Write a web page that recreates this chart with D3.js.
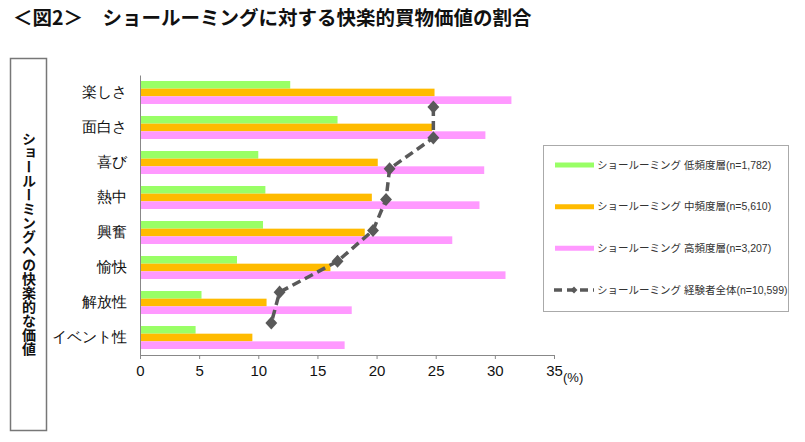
<!DOCTYPE html>
<html><head><meta charset="utf-8">
<script src="https://cdn.jsdelivr.net/npm/d3@7"></script>
<style>
body{margin:0;background:#fff;}
svg{display:block;font-family:"Noto Sans CJK JP","Noto Sans",sans-serif;}
</style></head>
<body>
<svg id="c" width="805" height="442"></svg>
<script>
const categories = ["楽しさ","面白さ","喜び","熱中","興奮","愉快","解放性","イベント性"];
const lowFreq  = [12.7,16.7,10.0,10.6,10.4,8.2,5.2,4.7];
const midFreq  = [24.9,24.7,20.1,19.6,19.0,16.1,10.7,9.5];
const highFreq = [31.4,29.2,29.1,28.7,26.4,30.9,17.9,17.3];
const allUsers = [24.8,24.8,21.1,20.8,19.7,16.7,11.8,11.1];
const xTicks = [0,5,10,15,20,25,30,35];
const seriesNames = ["ショールーミング 低頻度層(n=1,782)","ショールーミング 中頻度層(n=5,610)","ショールーミング 高頻度層(n=3,207)","ショールーミング 経験者全体(n=10,599)"];
const colors = ["#99ff66","#ffbb00","#ff99ff","#595959"];

const svg = d3.select("#c");
const x = d3.scaleLinear().domain([0,35]).range([140,554]);
const y = d3.scaleBand().domain(categories).range([75,355]).paddingInner(0.343).paddingOuter(0.171);
const barSeries = [lowFreq, midFreq, highFreq];
const sub = d3.scaleBand().domain([0,1,2]).range([0, y.bandwidth()]);
const yLine = d3.scalePoint().domain(categories).range([107,323]);

// title
svg.append("text").attr("x",13).attr("y",25).attr("font-size",19.5).attr("font-weight","bold")
  .attr("fill","#111").text("＜図2＞　ショールーミングに対する快楽的買物価値の割合");

// y label box
svg.append("rect").attr("x",10.5).attr("y",58.5).attr("width",36).attr("height",372)
  .attr("fill","none").attr("stroke","#777").attr("stroke-width",1.5);
svg.append("text").attr("x",29).attr("y",244).attr("text-anchor","middle")
  .style("writing-mode","vertical-rl").attr("font-size",14).attr("font-weight","bold").attr("fill","#111")
  .text("ショールーミングへの快楽的な価値");

// bars
barSeries.forEach((vals,i)=>{
  svg.append("g").selectAll("rect").data(vals).join("rect")
    .attr("x",x(0)).attr("y",(d,j)=>y(categories[j])+sub(i))
    .attr("width",d=>x(d)-x(0)).attr("height",sub.bandwidth())
    .attr("fill",colors[i]);
});

// axes
const xa = svg.append("g").attr("transform","translate(0,355)")
  .call(d3.axisBottom(x).tickValues(xTicks).tickSize(4).tickSizeOuter(0).tickPadding(6));
xa.select(".domain").attr("stroke","#888");
xa.selectAll(".tick line").attr("stroke","#888");
xa.selectAll(".tick text").attr("font-size",15).attr("fill","#111").attr("font-family","Arial, 'Liberation Sans', sans-serif");
svg.append("text").attr("x",563).attr("y",382).attr("font-size",13).attr("fill","#111")
  .attr("font-family","Arial, 'Liberation Sans', sans-serif").text("(%)");

const ya = svg.append("g").attr("transform","translate(140,0)")
  .call(d3.axisLeft(y).tickSize(0).tickPadding(13));
ya.select(".domain").attr("stroke","#888");
ya.selectAll(".tick text").attr("font-size",14.5).attr("fill","#111");

// line
const line = d3.line().x(d=>x(d)).y((d,i)=>yLine(categories[i]));
svg.append("path").datum(allUsers).attr("d",line).attr("fill","none")
  .attr("stroke",colors[3]).attr("stroke-width",3.5).attr("stroke-dasharray","9,5");
svg.append("g").selectAll("path").data(allUsers).join("path")
  .attr("d",d3.symbol(d3.symbolDiamond2,90)())
  .attr("transform",(d,i)=>`translate(${x(d)},${yLine(categories[i])}) scale(1,1.1)`)
  .attr("fill",colors[3]);

// legend
svg.append("rect").attr("x",543.5).attr("y",145.5).attr("width",245).attr("height",166)
  .attr("fill","#fff").attr("stroke","#aaa").attr("stroke-width",1);
const ly = d3.scalePoint().domain(seriesNames).range([165,290]);
seriesNames.forEach((n,i)=>{
  const g = svg.append("g").attr("transform",`translate(0,${ly(n)})`);
  if(i<3){
    g.append("line").attr("x1",555).attr("x2",594).attr("y1",0).attr("y2",0)
      .attr("stroke",colors[i]).attr("stroke-width",5);
  } else {
    g.append("line").attr("x1",554).attr("x2",594).attr("y1",0).attr("y2",0)
      .attr("stroke",colors[3]).attr("stroke-width",3.5).attr("stroke-dasharray","8,5");
    g.append("path").attr("d",d3.symbol(d3.symbolDiamond2,30)()).attr("transform","translate(574,0)").attr("fill",colors[3]);
  }
  g.append("text").attr("x",597).attr("y",0).attr("dy","0.35em").attr("font-size",10.5).attr("fill","#333")
    .attr("font-family","Arial, 'Liberation Sans', 'Noto Sans CJK JP', sans-serif").text(n);
});
</script>
</body></html>
